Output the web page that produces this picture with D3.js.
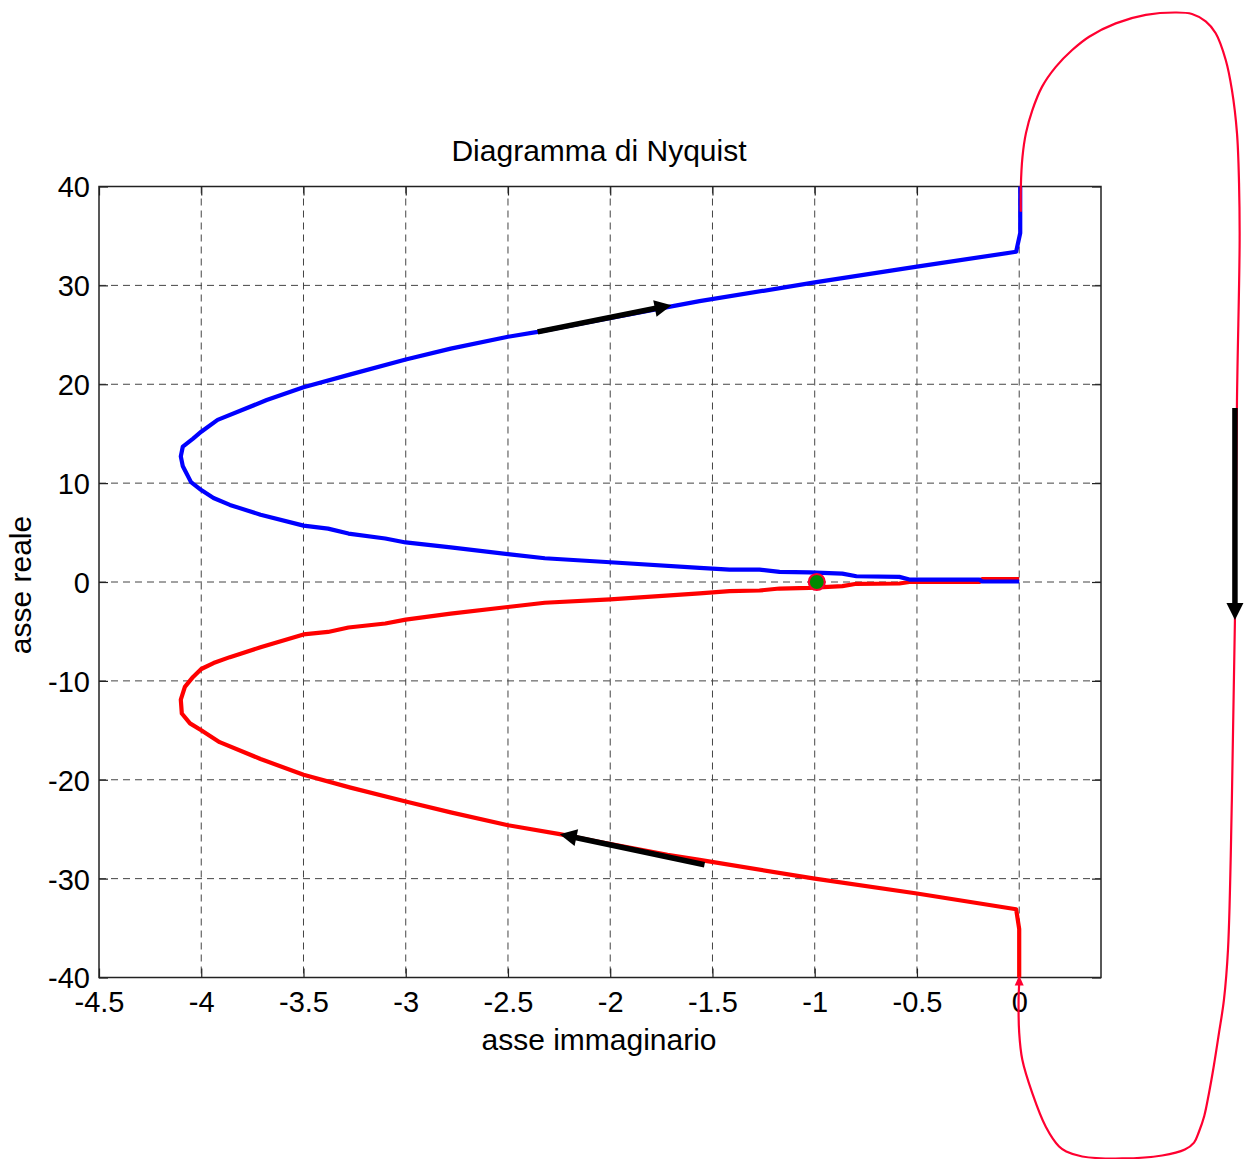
<!DOCTYPE html>
<html><head><meta charset="utf-8">
<script src="https://cdn.jsdelivr.net/npm/d3@7/dist/d3.min.js"></script>
<style>body{margin:0;background:#fff}svg{display:block}text{font-family:"Liberation Sans",Arial,sans-serif;fill:#000}</style>
</head><body><svg id="c" width="1251" height="1159"></svg>
<script>
// ---- data (x = imaginary part, y = real part as labelled in the chart) ----
const xTicks = [-4.5, -4, -3.5, -3, -2.5, -2, -1.5, -1, -0.5, 0];
const yTicks = [-40, -30, -20, -10, 0, 10, 20, 30, 40];
const xTickLabels = ["-4.5", "-4", "-3.5", "-3", "-2.5", "-2", "-1.5", "-1", "-0.5", "0"];
const yTickLabels = ["-40", "-30", "-20", "-10", "0", "10", "20", "30", "40"];

const blueIm = [0.005, 0.005, -0.015, -0.5, -1.0, -1.563, -1.72, -2.05, -2.355, -2.5, -2.78, -3.0, -3.27, -3.5, -3.68, -3.92, -4.0, -4.04, -4.09, -4.10, -4.09, -4.05, -4.0, -3.94, -3.86, -3.71, -3.5, -3.38, -3.28, -3.1, -3.0, -2.78, -2.49, -2.32, -2.0, -1.563, -1.417, -1.27, -1.172, -1.026, -0.865, -0.796, -0.586, -0.537, -0.195, -0.181, 0];
const blueRe = [40, 35.3, 33.4, 31.9, 30.3, 28.4, 27.8, 26.5, 25.3, 24.8, 23.6, 22.5, 21.0, 19.7, 18.4, 16.4, 15.2, 14.5, 13.7, 12.7, 11.7, 10.1, 9.3, 8.5, 7.8, 6.8, 5.7, 5.4, 4.9, 4.4, 4.0, 3.5, 2.8, 2.4, 2.0, 1.42, 1.25, 1.25, 1.02, 0.98, 0.85, 0.58, 0.52, 0.25, 0.25, 0.05, 0.05];

const redIm = [0, 0, -0.015, -0.5, -1.0, -1.563, -1.72, -2.05, -2.247, -2.5, -2.78, -3.0, -3.27, -3.5, -3.71, -3.91, -4.0, -4.055, -4.095, -4.10, -4.08, -4.04, -4.0, -3.94, -3.86, -3.71, -3.5, -3.38, -3.28, -3.1, -3.0, -2.78, -2.49, -2.32, -2.0, -1.563, -1.417, -1.27, -1.172, -1.026, -0.865, -0.796, -0.586, -0.537, -0.195, -0.181, 0];
const redRe = [-40, -35.1, -33.1, -31.5, -30.0, -28.1, -27.6, -26.3, -25.5, -24.6, -23.3, -22.2, -20.8, -19.5, -17.9, -16.2, -15.0, -14.3, -13.3, -11.9, -10.6, -9.6, -8.8, -8.2, -7.6, -6.6, -5.3, -5.05, -4.6, -4.2, -3.8, -3.2, -2.5, -2.1, -1.75, -1.16, -0.93, -0.86, -0.66, -0.59, -0.42, -0.18, -0.15, 0.0, 0.0, 0.3, 0.3];

// closing loop at infinity (drawn outside the axes)
const loopIm = [0.008, 0.008, 0.016, 0.033, 0.064, 0.112, 0.179, 0.259, 0.342, 0.472, 0.619, 0.765, 0.845, 0.912, 0.961, 1.01, 1.04, 1.065, 1.075, 1.078, 1.065, 1.055, 1.04, 1.021, 1.001, 0.977, 0.952, 0.928, 0.905, 0.879, 0.855, 0.81, 0.699, 0.503, 0.308, 0.23, 0.195, 0.13, 0.064, 0.015, 0.0, -0.003, 0.0];
const loopRe = [37.45, 39.98, 43.0, 45.4, 47.7, 50.1, 52.1, 53.8, 55.15, 56.5, 57.35, 57.6, 57.45, 56.7, 55.5, 52.8, 49.8, 45.4, 40.35, 34.6, 18.4, -3.8, -22.0, -37.2, -42.3, -45.6, -48.9, -51.7, -54.0, -55.6, -56.7, -57.4, -58.0, -58.3, -58.1, -57.6, -57.1, -55.1, -51.7, -48.3, -45.6, -42.3, -40.6];

// direction arrows [fromIm, fromRe] -> [toIm, toRe]
const arrowsFrom = [[-2.355, 25.3], [-1.539, -28.6], [1.055, 17.6]];
const arrowsTo = [[-1.70, 28.0], [-2.247, -25.5], [1.055, -3.84]];
const criticalPoint = [-0.99, 0];

// ---- drawing ----
const svg = d3.select("#c");
const L = 99, R = 1101, T = 186.5, B = 977.5;
const x = d3.scaleLinear().domain([-4.5, 0.4]).range([L, R]);
const y = d3.scaleLinear().domain([-40, 40]).range([B, T]);

// grid
const grid = svg.append("g");
grid.selectAll("line.vx").data(xTicks.filter(d => d > -4.5)).join("line")
  .attr("x1", d => x(d)).attr("x2", d => x(d)).attr("y1", T).attr("y2", B)
  .attr("stroke", "#444").attr("stroke-width", 1).attr("stroke-dasharray", "7,5");
grid.selectAll("line.hy").data(yTicks.filter(d => d > -40 && d < 40)).join("line")
  .attr("y1", d => y(d)).attr("y2", d => y(d)).attr("x1", L).attr("x2", R)
  .attr("stroke", "#444").attr("stroke-width", 1).attr("stroke-dasharray", "7,5");

// axes with inward ticks
const fs = 29;
const xAxis = d3.axisBottom(x).tickValues(xTicks).tickFormat((d, i) => xTickLabels[i]).tickSizeInner(-9).tickSizeOuter(0);
const gx = svg.append("g").attr("transform", `translate(0,${B})`).call(xAxis);
const yAxis = d3.axisLeft(y).tickValues(yTicks).tickFormat((d, i) => yTickLabels[i]).tickSizeInner(-9).tickSizeOuter(0);
const gy = svg.append("g").attr("transform", `translate(${L},0)`).call(yAxis);
const gxt = svg.append("g").attr("transform", `translate(0,${T})`).call(d3.axisTop(x).tickValues(xTicks).tickFormat("").tickSizeInner(-9).tickSizeOuter(0));
const gyr = svg.append("g").attr("transform", `translate(${R},0)`).call(d3.axisRight(y).tickValues(yTicks).tickFormat("").tickSizeInner(-9).tickSizeOuter(0));
[gx, gy, gxt, gyr].forEach(g => {
  g.select(".domain").remove();
  g.selectAll(".tick line").attr("stroke", "#222").attr("stroke-width", 1.2);
  g.selectAll("text").attr("font-size", fs).attr("font-family", '"Liberation Sans", Arial, sans-serif').attr("fill", "#000");
});
gx.selectAll("text").attr("dy", null).attr("y", 34);
gy.selectAll("text").attr("x", -9).attr("dy", "0.36em");
svg.append("rect").attr("x", L).attr("y", T).attr("width", R - L).attr("height", B - T)
  .attr("fill", "none").attr("stroke", "#222").attr("stroke-width", 1.5);

// titles
svg.append("text").attr("x", (L + R) / 2 - 1).attr("y", 161).attr("text-anchor", "middle").attr("font-size", 30).text("Diagramma di Nyquist");
svg.append("text").attr("x", (L + R) / 2 - 1).attr("y", 1050).attr("text-anchor", "middle").attr("font-size", 30).text("asse immaginario");
svg.append("text").attr("transform", `translate(31,585) rotate(-90)`).attr("text-anchor", "middle").attr("font-size", 30).text("asse reale");

// curves
const line = d3.line().x(d => x(d[0])).y(d => y(d[1]));
const bluePts = blueIm.map((v, i) => [v, blueRe[i]]);
const redPts = redIm.map((v, i) => [v, redRe[i]]);
svg.append("path").attr("d", line(redPts)).attr("fill", "none").attr("stroke", "#ff0000").attr("stroke-width", 4.2).attr("stroke-linejoin", "round");
svg.append("path").attr("d", line(bluePts)).attr("fill", "none").attr("stroke", "#0000ff").attr("stroke-width", 4.2).attr("stroke-linejoin", "round");

// loop
const loopPts = loopIm.map((v, i) => [v, loopRe[i]]);
svg.append("path").attr("d", d3.line().curve(d3.curveCatmullRom.alpha(0.5)).x(d => x(d[0])).y(d => y(d[1]))(loopPts))
  .attr("fill", "none").attr("stroke", "#ff0030").attr("stroke-width", 2.2);
// small arrowhead of loop at the axis
{
  const tx = x(0), ty = y(-40);
  svg.append("path").attr("d", `M${tx},${ty - 2} L${tx - 4.5},${ty + 8} L${tx + 4.5},${ty + 8} Z`).attr("fill", "#ff0030");
}

// critical point
svg.append("circle").attr("cx", x(criticalPoint[0])).attr("cy", y(criticalPoint[1])).attr("r", 8)
  .attr("fill", "#008a00").attr("stroke", "#ff0030").attr("stroke-width", 2.2);

// direction arrows
arrowsFrom.forEach((f, i) => {
  const t = arrowsTo[i];
  const x1 = x(f[0]), y1 = y(f[1]), x2 = x(t[0]), y2 = y(t[1]);
  const ang = Math.atan2(y2 - y1, x2 - x1);
  const hl = 17, hw = 8.5;
  const bx = x2 - hl * Math.cos(ang), by = y2 - hl * Math.sin(ang);
  svg.append("line").attr("x1", x1).attr("y1", y1).attr("x2", bx + Math.cos(ang)).attr("y2", by + Math.sin(ang))
    .attr("stroke", "#000").attr("stroke-width", 5.5);
  const px = -Math.sin(ang), py = Math.cos(ang);
  svg.append("path").attr("d", `M${x2},${y2} L${bx + px * hw},${by + py * hw} L${bx - px * hw},${by - py * hw} Z`).attr("fill", "#000");
});
</script></body></html>
